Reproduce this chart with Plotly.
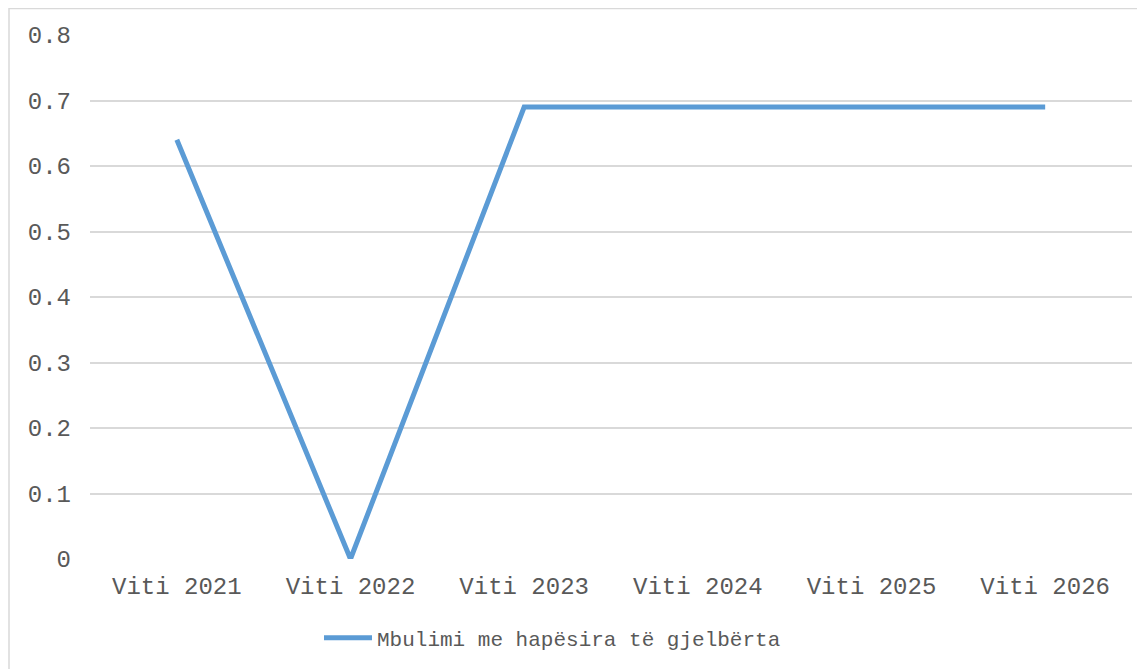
import plotly.graph_objects as go

categories = ["Viti 2021", "Viti 2022", "Viti 2023", "Viti 2024", "Viti 2025", "Viti 2026"]
values = [0.64, 0.0, 0.69, 0.69, 0.69, 0.69]
series_name = "Mbulimi me hapësira të gjelbërta"
y_ticks = [0, 0.1, 0.2, 0.3, 0.4, 0.5, 0.6, 0.7, 0.8]
y_tick_labels = ["0", "0.1", "0.2", "0.3", "0.4", "0.5", "0.6", "0.7", "0.8"]

FONT = "Liberation Mono, Courier New, monospace"
GRAY = "#595959"
GRID = "#D9D9D9"

# page body has an 8px margin; figure sized to fill the rest of the viewport
W, H = 1137, 661
L, R, T, B = 82, 13, 27, 109
pw = W - L - R
ph = H - T - B

fig = go.Figure()
fig.add_trace(go.Scatter(
    x=categories, y=values, mode="lines", name=series_name,
    line=dict(color="#5B9BD5", width=5),
))

fig.update_layout(
    width=W, height=H,
    margin=dict(l=L, r=R, t=T, b=B),
    paper_bgcolor="white", plot_bgcolor="white",
    showlegend=True,
    legend=dict(
        orientation="h", x=(327 - 8 - L - 8) / pw, xanchor="left",
        y=(ph - (638 - 8 - T)) / ph, yanchor="middle",
        font=dict(family=FONT, size=21, color=GRAY),
        itemwidth=48,
    ),
    xaxis=dict(
        type="category", range=[-0.5, 5.5], showgrid=False, showline=False,
        zeroline=False, ticks="", tickfont=dict(family=FONT, size=24, color=GRAY),
        ticklabelstandoff=10,
    ),
    yaxis=dict(
        range=[0, 0.8], tickvals=y_ticks, ticktext=y_tick_labels,
        showgrid=True, gridcolor=GRID, gridwidth=1.5, zeroline=False,
        showline=False, ticks="", tickfont=dict(family=FONT, size=24, color=GRAY),
        ticklabelstandoff=18,
    ),
)

# chart border
fig.add_shape(
    type="rect", xref="paper", yref="paper",
    x0=(1 - L) / pw, x1=(W + 20 - L) / pw,
    y0=(ph - (H + 20 - T)) / ph, y1=(ph - (0.5 - T)) / ph,
    line=dict(color=GRID, width=1.5), fillcolor="rgba(0,0,0,0)", layer="below",
)

fig.write_html("out.html")
